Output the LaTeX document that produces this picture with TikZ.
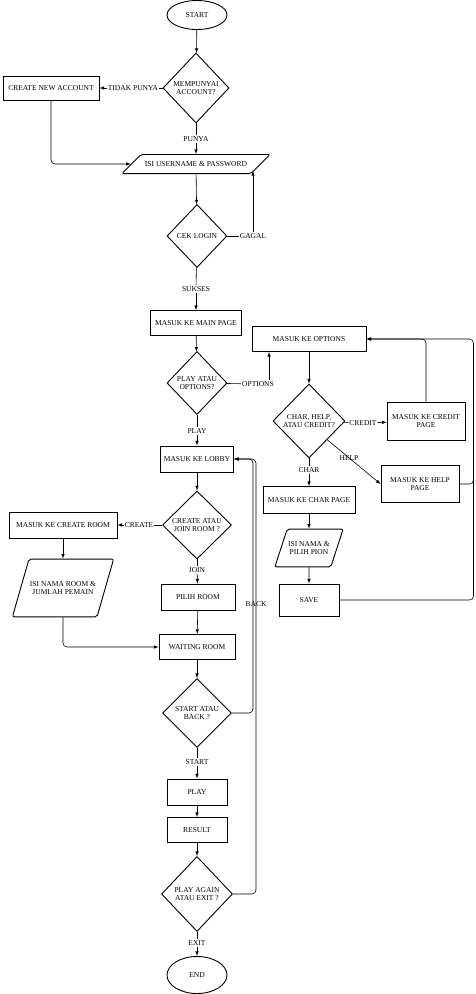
\documentclass[tikz,border=0pt]{standalone}
\usepackage{fontspec}
\setmainfont{Liberation Serif}
\usepackage{tikz}
\usetikzlibrary{shapes.geometric}
\usetikzlibrary{arrows}

\begin{document}
\begin{tikzpicture}[x=1pt,y=-1pt,>=latex,
    every node/.style={font=\fontsize{7.5}{8.7}\selectfont,align=center},
    box/.style={draw,line width=0.9pt,inner sep=1pt},
    cond/.style={draw,diamond,line width=0.9pt,inner sep=0pt},
    inout/.style={draw,trapezium,trapezium left angle=72,trapezium right angle=108,
      line width=0.9pt,rounded corners=2pt,inner xsep=1pt},
    term/.style={draw,ellipse,line width=0.9pt},
    lbl/.style={inner sep=1pt},
    line/.style={line width=0.6pt}]
    \useasboundingbox (0,0) rectangle (476,994);
    \node[term,minimum width=60pt,minimum height=29pt] (start) at (197,15) {START};
    \node[cond,minimum width=66pt,minimum height=70pt] (d1) at (196,88) {MEMPUNYAI\\ACCOUNT?};
    \node[box,minimum width=96pt,minimum height=24pt] (acc) at (51,88) {CREATE NEW ACCOUNT};
    \node[lbl] (ltidak) at (133,88) {TIDAK PUNYA};
    \node[lbl] (lpunya) at (196,139) {PUNYA};
    \node[inout,trapezium left angle=45,trapezium right angle=135,
      inner xsep=4pt,inner ysep=7pt] (io1) at (196,164) {ISI USERNAME \& PASSWORD};
    \node[cond,minimum width=60pt,minimum height=63pt] (cek) at (197,236) {CEK LOGIN};
    \node[lbl] (lgagal) at (253,236) {GAGAL};
    \coordinate (gagalin) at (253,171);
    \node[lbl] (lsukses) at (196,289) {SUKSES};
    \node[box,minimum width=91pt,minimum height=25pt] (main) at (196,323) {MASUK KE MAIN PAGE};
    \node[cond,minimum width=60pt,minimum height=63pt] (d2) at (197,383) {PLAY ATAU\\OPTIONS?};
    \node[lbl] (lopt) at (258,384) {OPTIONS};
    \node[box,minimum width=114pt,minimum height=25pt] (options) at (309,339) {MASUK KE OPTIONS};
    \node[lbl] (lplay) at (197,431) {PLAY};
    \node[box,minimum width=73pt,minimum height=26pt] (lobby) at (197,459) {MASUK KE LOBBY};
    \node[cond,minimum width=72pt,minimum height=74pt] (d3) at (309,421) {CHAR, HELP,\\ATAU CREDIT?};
    \node[lbl] (lcredit) at (363,423) {CREDIT};
    \node[box,minimum width=78pt,minimum height=38pt] (credit) at (426,421) {MASUK KE CREDIT\\PAGE};
    \node[box,minimum width=78pt,minimum height=37pt] (help) at (420,484) {MASUK KE HELP\\PAGE};
    \node[lbl] (lchar) at (309,470) {CHAR};
    \node[box,minimum width=92pt,minimum height=27pt] (charp) at (309,500) {MASUK KE CHAR PAGE};
    \node[inout,inner ysep=12pt] (pion) at (309,548) {ISI NAMA \&\\PILIH PION};
    \node[box,minimum width=60pt,minimum height=32pt] (save) at (309,600) {SAVE};
    \node[cond,minimum width=69pt,minimum height=68pt] (d4) at (197,525) {CREATE ATAU\\JOIN ROOM ?};
    \node[lbl] (lcreate) at (139,525) {CREATE};
    \node[box,minimum width=108pt,minimum height=26pt] (croom) at (63,525) {MASUK KE CREATE ROOM};
    \node[inout,trapezium left angle=74,trapezium right angle=106,
      inner ysep=22pt] (iroom) at (63,588) {ISI NAMA ROOM \&\\JUMLAH PEMAIN};
    \node[lbl] (ljoin) at (197,570) {JOIN};
    \node[box,minimum width=74pt,minimum height=26pt] (pilih) at (198,597) {PILIH ROOM};
    \node[lbl] (lback) at (256,604) {BACK};
    \node[box,minimum width=76pt,minimum height=25pt] (waiting) at (197,647) {WAITING ROOM};
    \node[cond,minimum width=69pt,minimum height=69pt] (d5) at (197,713) {START ATAU\\BACK ?};
    \node[lbl] (lstart) at (197,762) {START};
    \node[box,minimum width=60pt,minimum height=26pt] (play) at (197,792) {PLAY};
    \node[box,minimum width=60pt,minimum height=25pt] (result) at (197,830) {RESULT};
    \node[cond,minimum width=71pt,minimum height=75pt] (d6) at (197,894) {PLAY AGAIN\\ATAU EXIT ?};
    \node[lbl] (lexit) at (197,943) {EXIT};
    \node[term,minimum width=60pt,minimum height=37pt] (stop) at (197,975) {END};

    \draw[line,->] (start) -- (d1);
    \draw[line] (d1) -- (ltidak);
    \draw[line,->] (ltidak) -- (acc);
    \draw[line] (d1) -- (lpunya);
    \draw[line,->] (lpunya) -- (io1);
    \draw[line,->,rounded corners=4pt] (acc) |- (io1);
    \draw[line,->] (io1) -- (cek);
    \draw[line] (cek) -- (lgagal);
    \draw[line,->] (lgagal) -- (gagalin);
    \draw[line] (cek) -- (lsukses);
    \draw[line,->] (lsukses) -- (main);
    \draw[line,->] (main) -- (d2);
    \draw[line] (d2) -- (lopt);
    \draw[line,->] ([xshift=-6pt]lopt.north east) -- ([xshift=-6pt]lopt.north east |- options.south);
    \draw[line,->] (options) -- (d3);
    \draw[line] (d3) -- (lcredit);
    \draw[line,->] (lcredit) -- (credit);
    \draw[line,->,rounded corners=4pt] (credit) |- (options);
    \draw[line,rounded corners=4pt] (help.east) -- ++(14,0) -- ++(0,-10);
    \draw[line,->,rounded corners=4pt] (save.east) -- ++(134,0) |- (options);
    \draw[line,->] (d3.south east) -- (help.west);
    \node[lbl] (lhelp) at (349,458) {HELP};
    \draw[line] (d3) -- (lchar);
    \draw[line,->] (lchar) -- (charp);
    \draw[line,->] (charp) -- (pion);
    \draw[line,->] (pion) -- (save);
    \draw[line,->] (d2) -- (lplay) (lplay) -- (lobby);
    \draw[line,->] (lobby) -- (d4);
    \draw[line] (d4) -- (lcreate);
    \draw[line,->] (lcreate) -- (croom);
    \draw[line,->] (croom) -- (iroom);
    \draw[line,->,rounded corners=4pt] (iroom) |- (waiting);
    \draw[line] (d4) -- (ljoin);
    \draw[line,->] (ljoin) -- (pilih);
    \draw[line,->] (pilih) -- (waiting);
    \draw[line,->] (waiting) -- (d5);
    \draw[line,->,rounded corners=4pt] (d5.east) -- ++(21,0) |- (lobby);
    \draw[line,->,rounded corners=4pt] (d6.east) -- ++(23,0) |- (lobby);
    \draw[line] (d5) -- (lstart);
    \draw[line,->] (lstart) -- (play);
    \draw[line,->] (play) -- (result);
    \draw[line,->] (result) -- (d6);
    \draw[line] (d6) -- (lexit);
    \draw[line,->] (lexit) -- (stop);
\end{tikzpicture}
\end{document}
